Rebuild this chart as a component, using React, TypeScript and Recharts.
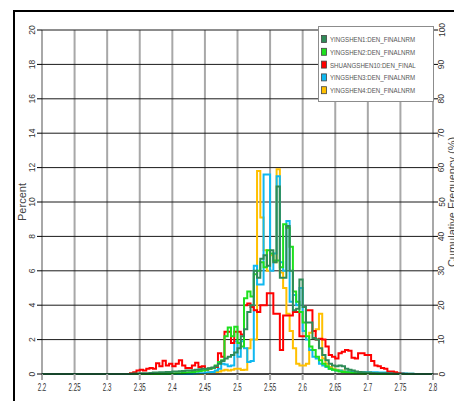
import {
  CartesianGrid,
  Label,
  Legend,
  Line,
  LineChart,
  XAxis,
  YAxis,
} from 'recharts';

const FONT = "'Liberation Sans', Arial, sans-serif";

// bins of 0.005 starting at 2.2 (120 bins), percent per bin
const X_START = 2.2;
const BIN = 0.005;
const X_TICKS = [2.2, 2.25, 2.3, 2.35, 2.4, 2.45, 2.5, 2.55, 2.6, 2.65, 2.7, 2.75, 2.8];
const PCT_TICKS = [0, 2, 4, 6, 8, 10, 12, 14, 16, 18, 20];
const CUM_TICKS = [0, 10, 20, 30, 40, 50, 60, 70, 80, 90, 100];

const yingshen1 = [
  0, 0, 0, 0, 0, 0, 0, 0, 0, 0,
  0, 0, 0, 0, 0, 0, 0, 0, 0, 0,
  0, 0, 0, 0, 0, 0, 0, 0.02, 0.03, 0.03,
  0.05, 0.05, 0.05, 0.06, 0.08, 0.08, 0.1, 0.1, 0.12, 0.12,
  0.14, 0.14, 0.16, 0.18, 0.2, 0.2, 0.22, 0.25, 0.28, 0.3,
  0.3, 0.33, 0.38, 0.45, 0.6, 0.75, 0.9, 1.0, 1.1, 1.25,
  1.5, 2.2, 2.6, 3.6, 4.0, 6.0, 5.6, 6.7, 6.9, 6.3,
  7.2, 6.5, 10.9, 5.6, 5.6, 8.6, 6.0, 3.7, 3.8, 5.5,
  3.9, 3.0, 3.0, 2.1, 2.0, 1.5, 1.1, 0.8, 0.6, 0.5,
  0.45, 0.5, 0.45, 0.3, 0.25, 0.2, 0.15, 0.12, 0.1, 0.08,
  0.08, 0.06, 0.05, 0.05, 0.04, 0.04, 0.03, 0.03, 0.02, 0.02,
  0.02, 0.02, 0.01, 0.01, 0, 0, 0, 0, 0, 0,
];

const yingshen2 = [
  0, 0, 0, 0, 0, 0, 0, 0, 0, 0,
  0, 0, 0, 0, 0, 0, 0, 0, 0, 0,
  0, 0, 0, 0, 0, 0, 0, 0, 0, 0,
  0, 0, 0, 0, 0, 0, 0.01, 0.02, 0.02, 0.02,
  0.03, 0.04, 0.05, 0.06, 0.08, 0.1, 0.12, 0.15, 0.18, 0.2,
  0.25, 0.3, 0.35, 0.5, 0.7, 0.8, 2.2, 2.7, 2.2, 2.75,
  1.8, 1.6, 4.4, 4.8, 4.5, 5.8, 6.0, 6.5, 6.2, 7.2,
  7.0, 6.6, 6.6, 6.2, 8.7, 8.5, 7.4, 4.8, 4.2, 3.6,
  3.0, 2.2, 1.6, 1.4, 1.0, 0.8, 0.6, 0.45, 0.3, 0.25,
  0.2, 0.15, 0.12, 0.1, 0.08, 0.06, 0.05, 0.04, 0.03, 0.02,
  0.02, 0.01, 0.01, 0, 0, 0, 0, 0, 0, 0,
  0, 0, 0, 0, 0, 0, 0, 0, 0, 0,
];

const shuangshen10 = [
  0, 0, 0, 0, 0, 0, 0, 0, 0, 0,
  0, 0, 0, 0, 0, 0, 0, 0, 0, 0,
  0, 0, 0, 0, 0, 0, 0, 0.05, 0.1, 0.2,
  0.25, 0.2, 0.3, 0.35, 0.3, 0.62, 0.45, 0.77, 0.5, 0.6,
  0.45, 0.6, 0.8, 0.5, 0.35, 0.35, 0.5, 0.65, 0.4, 0.45,
  0.25, 0.3, 0.35, 0.4, 1.2, 1.0, 2.45, 2.45, 1.8, 2.45,
  2.45, 2.3, 4.0, 4.1, 3.9, 3.7, 3.6, 4.0, 4.0, 4.7,
  4.7, 3.5, 3.5, 1.4, 3.4, 3.4, 3.4, 3.6, 3.6, 2.2,
  2.2, 3.7, 3.7, 2.5, 2.0, 2.05, 2.0, 1.6, 1.1, 1.0,
  0.9, 1.2, 1.3, 1.4, 1.35, 0.95, 0.9, 1.2, 1.2, 1.1,
  1.1, 0.75, 0.5, 0.45, 0.35, 0.3, 0.15, 0.15, 0.1, 0.05,
  0.02, 0, 0, 0, 0, 0, 0, 0, 0, 0,
];

const yingshen3 = [
  0, 0, 0, 0, 0, 0, 0, 0, 0, 0,
  0, 0, 0, 0, 0, 0, 0, 0, 0, 0,
  0, 0, 0, 0, 0, 0, 0, 0, 0, 0,
  0, 0, 0, 0, 0, 0, 0, 0, 0, 0,
  0, 0, 0, 0, 0, 0, 0.02, 0.03, 0.05, 0.05,
  0.08, 0.1, 0.12, 0.2, 0.3, 0.6, 0.55, 0.45, 0.5, 1.9,
  1.0, 1.9, 1.5, 0.7, 0.75, 6.3, 5.2, 5.2, 11.6, 11.6,
  6.0, 7.0, 11.5, 6.5, 6.0, 8.9, 4.2, 4.6, 4.0, 5.0,
  2.5, 2.0, 1.4, 1.0, 0.9, 0.6, 0.5, 0.4, 0.3, 0.25,
  0.2, 0.2, 0.15, 0.15, 0.12, 0.12, 0.1, 0.1, 0.1, 0.1,
  0.1, 0.1, 0.1, 0.08, 0.08, 0.08, 0.08, 0.06, 0.05, 0.05,
  0.05, 0.03, 0.02, 0.01, 0, 0, 0, 0, 0, 0,
];

const yingshen4 = [
  0, 0, 0, 0, 0, 0, 0, 0, 0, 0,
  0, 0, 0, 0, 0, 0, 0, 0, 0, 0,
  0, 0, 0, 0, 0, 0, 0, 0, 0, 0,
  0, 0, 0, 0, 0, 0, 0, 0, 0, 0,
  0, 0, 0, 0, 0, 0, 0, 0, 0, 0,
  0.05, 0.08, 0.1, 0.12, 0.15, 0.2, 0.25, 0.2, 0.25, 0.3,
  0.3, 0.23, 0.25, 1.5, 2.0, 2.0, 11.8, 9.1, 7.2, 6.0,
  6.9, 6.5, 11.9, 5.9, 5.0, 3.5, 2.5, 1.5, 0.6, 0.5,
  0.5, 0.6, 2.4, 2.5, 2.6, 3.5, 0.9, 0.6, 0.4, 0.3,
  0.25, 0.2, 0.2, 0.15, 0.15, 0.1, 0.1, 0.08, 0.05, 0.05,
  0.05, 0.03, 0.02, 0.01, 0, 0, 0, 0, 0, 0,
  0, 0, 0, 0, 0, 0, 0, 0, 0, 0,
];

const SERIES = [
  { key: 'ys1', name: 'YINGSHEN1:DEN_FINALNRM', color: '#2e8b57', values: yingshen1 },
  { key: 'ys2', name: 'YINGSHEN2:DEN_FINALNRM', color: '#1ee01e', values: yingshen2 },
  { key: 'ss10', name: 'SHUANGSHEN10:DEN_FINAL', color: '#ff0000', values: shuangshen10 },
  { key: 'ys3', name: 'YINGSHEN3:DEN_FINALNRM', color: '#10b8f0', values: yingshen3 },
  { key: 'ys4', name: 'YINGSHEN4:DEN_FINALNRM', color: '#ffc000', values: yingshen4 },
];

// one row per bin edge, plus the closing edge at 2.8
const data = Array.from({ length: yingshen1.length + 1 }, (_, i) => {
  const row: Record<string, number> = { x: Number((X_START + i * BIN).toFixed(3)) };
  SERIES.forEach((s) => {
    row[s.key] = s.values[i] ?? 0;
  });
  return row;
});

function XTick({ x, y, payload }: any) {
  return (
    <g transform={`translate(${x} ${y + 9}) scale(0.62 1)`}>
      <text x={0} y={0} textAnchor="middle" fontSize={10} fill="#333" fontFamily={FONT}>
        {payload.value}
      </text>
    </g>
  );
}

function LeftTick({ x, y, payload }: any) {
  return (
    <text
      x={x}
      y={y}
      transform={`rotate(-90 ${x} ${y})`}
      textAnchor="middle"
      fontSize={8.5}
      fill="#333"
      fontFamily={FONT}
    >
      {payload.value}
    </text>
  );
}

function RightTick({ x, y, payload }: any) {
  const bx = x + 4.5;
  return (
    <text
      x={bx}
      y={y}
      transform={`rotate(-90 ${bx} ${y})`}
      textAnchor="middle"
      fontSize={8.5}
      fill="#333"
      fontFamily={FONT}
    >
      {payload.value}
    </text>
  );
}

function LegendBox() {
  return (
    <svg width={116} height={76} style={{ display: 'block' }}>
      <rect x={0.5} y={0.5} width={115} height={75} fill="#fff" stroke="#8c8c8c" />
      {SERIES.map((s, k) => {
        const cy = 13 + k * 12.8;
        return (
          <g key={s.key}>
            <rect x={3.5} y={cy - 3.5} width={5} height={7} fill={s.color} stroke="#444" strokeWidth={0.8} />
            <g transform={`translate(12 ${cy + 3}) scale(0.77 1)`}>
              <text x={0} y={0} fontSize={8} fill="#555" fontFamily={FONT}>
                {s.name}
              </text>
            </g>
          </g>
        );
      })}
    </svg>
  );
}

export default function App() {
  return (
    <div
      style={{
        position: 'absolute',
        left: 0,
        top: 0,
        width: 454,
        height: 401,
        background: '#fff',
        overflow: 'hidden',
      }}
    >
      <div
        style={{
          position: 'absolute',
          left: 13,
          top: 10,
          width: 600,
          height: 600,
          borderLeft: '2px solid #000',
          borderTop: '2px solid #000',
        }}
      />
      <div style={{ position: 'absolute', left: 0, top: 0 }}>
        <LineChart width={454} height={401} data={data} margin={{ top: 30, right: 0, bottom: 0, left: 0 }}>
          <CartesianGrid horizontal={false} stroke="#a8a8a8" strokeWidth={2} yAxisId="pct" />
          <CartesianGrid vertical={false} stroke="#1a1a1a" strokeWidth={1} yAxisId="pct" />
          <XAxis
            dataKey="x"
            type="number"
            domain={[2.2, 2.8]}
            ticks={X_TICKS}
            interval={0}
            height={27}
            axisLine={{ stroke: '#000', strokeWidth: 1 }}
            tickLine={{ stroke: '#a8a8a8', strokeWidth: 2 }}
            tickSize={6}
            tick={XTick}
          />
          <YAxis
            yAxisId="pct"
            domain={[0, 20]}
            ticks={PCT_TICKS}
            interval={0}
            width={42}
            axisLine={false}
            tickLine={{ stroke: '#000' }}
            tickSize={5}
            tick={LeftTick}
          >
            <Label
              content={({ viewBox }: any) => {
                const cx = viewBox.x + 25.5;
                const cy = viewBox.y + viewBox.height / 2;
                return (
                  <text
                    x={cx}
                    y={cy}
                    transform={`rotate(-90 ${cx} ${cy})`}
                    textAnchor="middle"
                    fontSize={11}
                    fill="#444"
                    fontFamily={FONT}
                  >
                    Percent
                  </text>
                );
              }}
            />
          </YAxis>
          <YAxis
            yAxisId="cum"
            orientation="right"
            domain={[0, 100]}
            ticks={CUM_TICKS}
            interval={0}
            allowDataOverflow
            width={21}
            axisLine={false}
            tickLine={{ stroke: '#000' }}
            tickSize={5}
            tick={RightTick}
          >
            <Label
              content={({ viewBox }: any) => {
                const cx = viewBox.x + 23;
                const cy = viewBox.y + viewBox.height / 2;
                return (
                  <text
                    x={cx}
                    y={cy}
                    transform={`rotate(-90 ${cx} ${cy})`}
                    textAnchor="middle"
                    fontSize={11}
                    fill="#444"
                    fontFamily={FONT}
                  >
                    Cumulative Frequency (%)
                  </text>
                );
              }}
            />
          </YAxis>
          <Legend
            layout="vertical"
            align="center"
            verticalAlign="middle"
            content={() => <LegendBox />}
            wrapperStyle={{ position: 'absolute', left: 318, top: 26, width: 116, height: 76 }}
          />
          {[...SERIES].reverse().map((s) => (
            <Line
              key={s.key}
              yAxisId="pct"
              type="stepAfter"
              dataKey={s.key}
              name={s.name}
              stroke={s.color}
              strokeWidth={2}
              dot={false}
              activeDot={false}
              isAnimationActive={false}
            />
          ))}
        </LineChart>
      </div>
    </div>
  );
}
